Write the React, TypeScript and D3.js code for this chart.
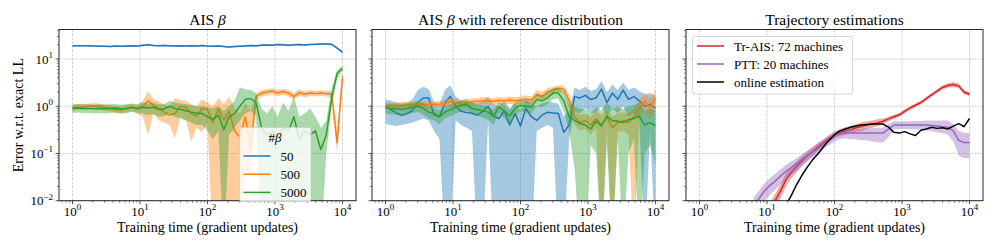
import React from 'react';
import * as d3 from 'd3';

// shared training-time grid (gradient updates)
const X = [1, 1.2, 1.45, 1.74, 2.09, 2.51, 3.02, 3.63, 4.37, 5.25, 6.31, 7.59, 9.12, 10.96, 13.2, 15.8, 19.1, 22.9, 27.5, 33.1, 39.8, 47.9, 57.5, 69.2, 83.2, 100, 120, 145, 174, 209, 251, 302, 363, 437, 525, 631, 759, 912, 1096, 1318, 1585, 1905, 2291, 2754, 3311, 3981, 4786, 5754, 6918, 8318, 10000];

// panel 1: AIS beta
const P1_B50 = [19, 19, 19.2, 19, 18.8, 18.6, 18.7, 18.5, 18.8, 18.6, 18.9, 19.2, 18.8, 19.5, 20, 19.3, 19, 19.4, 19.2, 18.9, 19.1, 18.8, 19.2, 18.9, 19.3, 18.8, 18.6, 18.9, 18.4, 18, 18.3, 18.6, 18.9, 19.3, 19, 19.5, 19.9, 19.5, 20.2, 20, 19.6, 20.1, 20.2, 19.8, 20.3, 20.5, 20.9, 20.8, 20.5, 17, 14];
const P1_B50_LO = [18.3, 18.4, 18.5, 18.3, 18.1, 17.9, 18, 17.8, 18.1, 17.9, 18.2, 18.5, 18.1, 18.7, 19.2, 18.6, 18.3, 18.6, 18.5, 18.2, 18.4, 18.1, 18.4, 18.2, 18.5, 18.1, 17.9, 18.1, 17.7, 17.3, 17.5, 17.9, 18.1, 18.5, 18.2, 18.7, 19.1, 18.8, 19.3, 19.2, 18.8, 19.3, 19.4, 19, 19.5, 19.6, 20, 19.9, 19.6, 16.2, 13.3];
const P1_B50_HI = [19.7, 19.6, 19.9, 19.7, 19.5, 19.3, 19.4, 19.2, 19.5, 19.3, 19.6, 19.9, 19.5, 20.3, 20.8, 20, 19.7, 20.2, 19.9, 19.6, 19.8, 19.5, 19.9, 19.6, 20.1, 19.5, 19.3, 19.7, 19.1, 18.7, 19.1, 19.3, 19.7, 20.1, 19.8, 20.3, 20.7, 20.2, 21.1, 20.8, 20.4, 20.9, 21, 20.6, 21.1, 21.4, 21.8, 21.7, 21.4, 17.8, 14.7];

const P1_B500 = [0.93, 0.95, 0.97, 1.0, 1.02, 1.0, 0.95, 0.9, 0.85, 0.82, 0.9, 0.95, 0.88, 1.0, 1.3, 1.05, 0.9, 0.75, 0.65, 0.7, 1.0, 0.95, 0.7, 0.62, 0.9, 0.85, 0.45, 0.9, 0.5, 0.8, 0.3, 0.22, 0.6, 0.14, 1.6, 1.9, 2.0, 2.1, 1.9, 2.05, 1.9, 1.6, 1.95, 1.8, 1.9, 1.85, 1.9, 1.85, 1.8, 0.17, 4.3];
const P1_B500_LO = [0.8, 0.82, 0.84, 0.86, 0.88, 0.86, 0.8, 0.76, 0.72, 0.7, 0.74, 0.78, 0.7, 0.6, 0.25, 0.7, 0.5, 0.45, 0.4, 0.21, 0.6, 0.5, 0.18, 0.35, 0.28, 0.45, 0.001, 0.001, 0.001, 0.001, 0.001, 0.001, 0.05, 0.03, 1.3, 1.6, 1.7, 1.8, 1.6, 1.75, 1.6, 1.35, 1.65, 1.55, 1.65, 1.6, 1.65, 1.6, 1.5, 0.1, 3.6];
const P1_B500_HI = [1.08, 1.1, 1.12, 1.15, 1.17, 1.15, 1.1, 1.05, 1.0, 1.0, 1.08, 1.12, 1.05, 1.3, 2.1, 1.4, 1.25, 1.1, 1.0, 1.5, 1.35, 1.3, 1.1, 1.0, 1.4, 1.2, 1.0, 1.5, 1.1, 1.6, 0.9, 0.7, 1.2, 0.8, 1.9, 2.2, 2.3, 2.4, 2.2, 2.35, 2.2, 1.9, 2.25, 2.1, 2.2, 2.1, 2.2, 2.1, 2.1, 0.3, 5.0];

const P1_B5000 = [0.9, 0.92, 0.9, 0.9, 0.88, 0.9, 0.88, 0.9, 0.92, 0.88, 0.9, 0.95, 0.9, 0.95, 0.92, 0.95, 0.85, 0.88, 1.0, 0.9, 0.85, 0.8, 0.75, 0.72, 0.7, 0.6, 0.52, 0.65, 0.32, 0.6, 0.7, 1.0, 1.4, 1.45, 1.2, 0.35, 0.25, 0.3, 0.22, 0.35, 0.3, 0.6, 0.2, 0.3, 0.25, 0.3, 0.12, 0.25, 1.5, 5.0, 6.3];
const P1_B5000_LO = [0.72, 0.74, 0.72, 0.72, 0.7, 0.72, 0.7, 0.72, 0.74, 0.7, 0.72, 0.76, 0.72, 0.7, 0.65, 0.68, 0.6, 0.62, 0.7, 0.6, 0.55, 0.5, 0.45, 0.4, 0.4, 0.3, 0.2, 0.3, 0.001, 0.25, 0.35, 0.5, 0.7, 0.8, 0.6, 0.001, 0.001, 0.001, 0.001, 0.001, 0.001, 0.001, 0.001, 0.001, 0.001, 0.001, 0.001, 0.1, 1.0, 3.8, 5.5];
const P1_B5000_HI = [1.1, 1.12, 1.1, 1.1, 1.08, 1.1, 1.08, 1.1, 1.12, 1.08, 1.1, 1.15, 1.1, 1.2, 1.15, 1.2, 1.1, 1.12, 1.3, 1.2, 1.15, 1.1, 1.05, 1.0, 1.0, 0.95, 0.9, 1.0, 0.8, 1.0, 1.3, 2.5, 2.3, 2.2, 1.9, 0.9, 0.7, 1.0, 0.6, 1.2, 0.8, 1.6, 0.6, 0.7, 0.9, 0.6, 0.35, 0.5, 2.5, 5.8, 7.2];

// panel 2: AIS beta with reference distribution
const P2_B50 = [1.0, 0.85, 0.72, 0.64, 0.7, 0.82, 1.2, 1.5, 1.5, 0.66, 0.6, 1.2, 1.6, 1.0, 0.78, 0.74, 0.72, 0.65, 0.78, 1.0, 0.62, 0.55, 0.8, 0.4, 0.7, 0.38, 0.9, 0.6, 0.5, 0.65, 0.75, 0.72, 0.7, 0.28, 0.4, 1.6, 1.5, 1.7, 1.4, 1.5, 2.3, 1.2, 1.9, 1.4, 2.2, 1.4, 1.6, 1.3, 1.0, 1.1, 0.9];
const P2_B50_LO = [0.42, 0.4, 0.38, 0.4, 0.42, 0.45, 0.5, 0.55, 0.5, 0.3, 0.2, 0.001, 0.001, 0.5, 0.4, 0.35, 0.3, 0.001, 0.001, 0.5, 0.001, 0.001, 0.001, 0.001, 0.001, 0.001, 0.001, 0.001, 0.3, 0.35, 0.4, 0.35, 0.001, 0.001, 0.2, 0.8, 0.7, 0.9, 0.7, 0.75, 1.0, 0.6, 0.9, 0.7, 1.0, 0.6, 0.7, 0.5, 0.001, 0.3, 0.001];
const P2_B50_HI = [1.4, 1.3, 1.2, 1.15, 1.2, 1.4, 2.2, 2.6, 2.3, 1.2, 1.1, 2.2, 2.8, 1.6, 1.3, 1.25, 1.2, 1.15, 1.3, 1.6, 1.1, 1.0, 1.3, 0.9, 1.2, 0.8, 1.4, 1.1, 1.0, 1.15, 1.25, 1.2, 1.15, 0.6, 0.8, 2.5, 2.2, 2.6, 2.1, 2.3, 3.4, 2.0, 2.9, 2.2, 3.2, 2.2, 2.5, 2.1, 1.8, 1.9, 1.6];

const P2_B500 = [1.0, 1.02, 1.03, 1.05, 1.07, 1.05, 1.1, 1.12, 1.08, 1.1, 1.12, 1.15, 1.25, 1.2, 1.15, 1.2, 1.25, 1.28, 1.3, 1.3, 1.28, 1.32, 1.3, 1.35, 1.3, 1.35, 1.4, 1.35, 1.8, 1.6, 2.0, 2.2, 2.4, 2.3, 1.3, 0.6, 0.45, 0.5, 0.4, 0.55, 0.4, 0.6, 0.35, 0.45, 0.5, 0.45, 0.6, 0.9, 1.3, 0.9, 1.5];
const P2_B500_LO = [0.88, 0.9, 0.9, 0.92, 0.93, 0.9, 0.95, 0.96, 0.92, 0.94, 0.95, 0.97, 1.05, 1.0, 0.95, 1.0, 1.05, 1.08, 1.1, 1.08, 1.05, 1.1, 1.08, 1.12, 1.05, 1.1, 1.15, 1.1, 1.45, 1.3, 1.6, 1.8, 2.0, 1.9, 0.9, 0.4, 0.3, 0.33, 0.25, 0.35, 0.001, 0.35, 0.001, 0.28, 0.3, 0.25, 0.001, 0.55, 0.8, 0.5, 0.9];
const P2_B500_HI = [1.15, 1.18, 1.2, 1.22, 1.24, 1.22, 1.28, 1.3, 1.26, 1.28, 1.3, 1.35, 1.5, 1.42, 1.35, 1.4, 1.48, 1.5, 1.55, 1.52, 1.5, 1.55, 1.52, 1.6, 1.55, 1.6, 1.7, 1.6, 2.2, 2.0, 2.4, 2.6, 2.8, 2.7, 1.8, 0.85, 0.65, 0.7, 0.6, 0.8, 0.65, 0.85, 0.6, 0.7, 0.75, 0.7, 0.9, 1.4, 1.9, 1.5, 2.2];

const P2_B5000 = [0.92, 0.9, 0.88, 0.85, 0.9, 0.95, 1.0, 0.9, 0.75, 0.7, 0.6, 0.75, 0.85, 0.95, 1.05, 1.1, 0.9, 0.85, 0.8, 0.75, 0.62, 0.97, 0.8, 0.62, 0.9, 1.05, 1.0, 0.97, 1.38, 1.3, 1.5, 1.9, 1.9, 1.3, 0.6, 0.5, 0.43, 0.4, 0.33, 0.48, 0.38, 0.62, 0.5, 0.48, 0.45, 0.52, 0.55, 0.62, 0.4, 0.45, 0.39];
const P2_B5000_LO = [0.7, 0.68, 0.66, 0.64, 0.68, 0.72, 0.76, 0.66, 0.55, 0.5, 0.42, 0.55, 0.62, 0.7, 0.78, 0.82, 0.65, 0.62, 0.58, 0.52, 0.4, 0.7, 0.55, 0.4, 0.65, 0.78, 0.72, 0.7, 1.0, 0.95, 1.1, 1.4, 1.45, 0.8, 0.3, 0.05, 0.001, 0.001, 0.15, 0.1, 0.001, 0.15, 0.001, 0.2, 0.001, 0.1, 0.2, 0.001, 0.1, 0.15, 0.06];
const P2_B5000_HI = [1.15, 1.12, 1.1, 1.08, 1.12, 1.2, 1.28, 1.15, 0.98, 0.92, 0.82, 0.98, 1.1, 1.22, 1.35, 1.4, 1.18, 1.1, 1.05, 1.0, 0.85, 1.25, 1.05, 0.85, 1.2, 1.35, 1.3, 1.28, 1.75, 1.7, 2.0, 2.4, 2.5, 2.0, 1.1, 1.0, 0.9, 0.85, 0.7, 0.95, 0.8, 1.2, 0.9, 0.95, 0.85, 1.0, 1.05, 1.2, 0.8, 0.9, 0.8];

// panel 3: trajectory estimations (series start later on the grid)
const TRAIS_X = X.slice(13);
const TRAIS = [0.006, 0.01, 0.016, 0.028, 0.04, 0.053, 0.07, 0.09, 0.11, 0.14, 0.17, 0.21, 0.25, 0.28, 0.3, 0.32, 0.35, 0.37, 0.4, 0.42, 0.45, 0.48, 0.54, 0.6, 0.66, 0.78, 0.92, 1.05, 1.2, 1.45, 1.75, 2.1, 2.5, 2.75, 2.9, 2.7, 2.0, 1.8];
const TRAIS_LO = [0.004, 0.007, 0.011, 0.02, 0.03, 0.04, 0.055, 0.072, 0.09, 0.115, 0.14, 0.18, 0.21, 0.235, 0.25, 0.27, 0.29, 0.3, 0.33, 0.35, 0.38, 0.42, 0.48, 0.54, 0.6, 0.71, 0.84, 0.96, 1.1, 1.32, 1.6, 1.9, 2.25, 2.45, 2.55, 2.4, 1.8, 1.62];
const TRAIS_HI = [0.009, 0.014, 0.022, 0.038, 0.053, 0.068, 0.088, 0.11, 0.135, 0.17, 0.2, 0.245, 0.29, 0.33, 0.36, 0.39, 0.42, 0.45, 0.48, 0.5, 0.53, 0.55, 0.6, 0.66, 0.72, 0.85, 1.0, 1.14, 1.31, 1.58, 1.9, 2.3, 2.75, 3.05, 3.25, 3.0, 2.2, 1.98];

const PTT_X = X.slice(10);
const PTT = [0.008, 0.011, 0.016, 0.021, 0.026, 0.033, 0.042, 0.05, 0.06, 0.075, 0.09, 0.11, 0.13, 0.16, 0.19, 0.23, 0.26, 0.27, 0.27, 0.27, 0.27, 0.27, 0.27, 0.27, 0.27, 0.33, 0.4, 0.4, 0.4, 0.4, 0.4, 0.4, 0.4, 0.39, 0.38, 0.37, 0.36, 0.3, 0.19, 0.17, 0.17];
const PTT_LO = [0.005, 0.007, 0.01, 0.013, 0.017, 0.022, 0.028, 0.035, 0.043, 0.055, 0.068, 0.085, 0.1, 0.125, 0.15, 0.18, 0.2, 0.21, 0.2, 0.2, 0.19, 0.19, 0.18, 0.17, 0.17, 0.22, 0.32, 0.33, 0.33, 0.33, 0.32, 0.32, 0.31, 0.3, 0.28, 0.27, 0.25, 0.18, 0.09, 0.08, 0.08];
const PTT_HI = [0.012, 0.016, 0.023, 0.03, 0.037, 0.046, 0.058, 0.068, 0.08, 0.097, 0.115, 0.14, 0.165, 0.2, 0.235, 0.28, 0.31, 0.32, 0.33, 0.33, 0.33, 0.34, 0.34, 0.35, 0.35, 0.42, 0.48, 0.48, 0.48, 0.48, 0.49, 0.49, 0.5, 0.5, 0.5, 0.5, 0.5, 0.42, 0.3, 0.27, 0.27];

const ONLINE_X = X.slice(16);
const ONLINE = [0.008, 0.013, 0.022, 0.035, 0.052, 0.075, 0.1, 0.14, 0.19, 0.25, 0.3, 0.33, 0.36, 0.38, 0.4, 0.41, 0.42, 0.42, 0.42, 0.36, 0.28, 0.27, 0.29, 0.26, 0.24, 0.31, 0.33, 0.36, 0.34, 0.35, 0.33, 0.38, 0.43, 0.37, 0.55];

const TITLES = ['AIS', 'AIS', 'Trajectory estimations'];
const BETA_LABELS = ['50', '500', '5000'];
const TRAJ_LABELS = ['Tr-AIS: 72 machines', 'PTT: 20 machines', 'online estimation'];

const C_BLUE = '#1f77b4', C_ORANGE = '#ff7f0e', C_GREEN = '#2ca02c', C_RED = '#d62728', C_PURPLE = '#9467bd';
const FONT = '"Liberation Serif", "DejaVu Serif", serif';

interface Series { x: number[]; y: number[]; lo?: number[]; hi?: number[]; color: string }

const LEFTS = [59, 372, 686];
const PW = 297;
const TOP = 29.5;
const BOTTOM = 200.7;

const yScale = d3.scaleLog().domain([1e-2, Math.pow(10, 1.625)]).range([BOTTOM, TOP]);
const MAJOR_X = [1, 10, 100, 1000, 10000];
const MAJOR_Y = [0.01, 0.1, 1, 10];
const minorOf = (lo: number, hi: number) => {
  const out: number[] = [];
  for (let e = -3; e <= 5; e++) for (let m = 2; m <= 9; m++) {
    const v = m * Math.pow(10, e);
    if (v >= lo && v <= hi) out.push(v);
  }
  return out;
};
const sup = (v: number) => String(Math.round(Math.log10(v))).replace('-', '\u2212');

const Pow: React.FC<{ x: number; y: number; v: number; anchor: string }> = ({ x, y, v, anchor }) => (
  <text x={x} y={y} textAnchor={anchor} fontSize={13}>
    10<tspan dy={-5.5} fontSize={9}>{sup(v)}</tspan>
  </text>
);

const Panel: React.FC<{ idx: number; series: Series[]; title: React.ReactNode; yLabels: boolean; children?: React.ReactNode }> = ({ idx, series, title, yLabels, children }) => {
  const left = LEFTS[idx];
  const x = d3.scaleLog().domain([Math.pow(10, -0.2), Math.pow(10, 4.2)]).range([left, left + PW]);
  const [xlo, xhi] = x.domain();
  const [ylo, yhi] = yScale.domain();
  const clipId = `clip${idx}`;
  const area = d3.area<number>();
  const line = d3.line<number>();
  return (
    <g>
      <defs>
        <clipPath id={clipId}><rect x={left} y={TOP} width={PW} height={BOTTOM - TOP} /></clipPath>
      </defs>
      {MAJOR_X.map(v => (
        <line key={'gx' + v} x1={x(v)} x2={x(v)} y1={TOP} y2={BOTTOM} stroke="#b0b0b0" strokeOpacity={0.7} strokeWidth={0.8} strokeDasharray="2.8,1.2" />
      ))}
      {MAJOR_Y.map(v => (
        <line key={'gy' + v} x1={left} x2={left + PW} y1={yScale(v)} y2={yScale(v)} stroke="#b0b0b0" strokeOpacity={0.7} strokeWidth={0.8} strokeDasharray="2.8,1.2" />
      ))}
      <g clipPath={`url(#${clipId})`}>
        {series.map((s, k) => {
          const idxs = s.x.map((_, i) => i);
          const a = s.lo && s.hi ? area.x(i => x(s.x[i])).y0(i => yScale(s.lo![i])).y1(i => yScale(s.hi![i]))(idxs) : null;
          const l = line.x(i => x(s.x[i])).y(i => yScale(s.y[i]))(idxs);
          return (
            <g key={k}>
              {a && <path d={a} fill={s.color} fillOpacity={0.4} stroke="none" />}
              <path d={l!} fill="none" stroke={s.color} strokeWidth={1.5} strokeLinejoin="round" />
            </g>
          );
        })}
      </g>
      <rect x={left} y={TOP} width={PW} height={BOTTOM - TOP} fill="none" stroke="#262626" strokeWidth={1} />
      {MAJOR_X.map(v => (
        <g key={'tx' + v}>
          <line x1={x(v)} x2={x(v)} y1={BOTTOM} y2={BOTTOM + 3.5} stroke="#262626" strokeWidth={0.8} />
          <Pow x={x(v)} y={215.5} v={v} anchor="middle" />
        </g>
      ))}
      {minorOf(xlo, xhi).map(v => (
        <line key={'mx' + v} x1={x(v)} x2={x(v)} y1={BOTTOM} y2={BOTTOM + 2} stroke="#262626" strokeWidth={0.6} />
      ))}
      {MAJOR_Y.map(v => (
        <g key={'ty' + v}>
          <line x1={left - 3.5} x2={left} y1={yScale(v)} y2={yScale(v)} stroke="#262626" strokeWidth={0.8} />
          {yLabels && <Pow x={left - 6} y={yScale(v) + 4.5} v={v} anchor="end" />}
        </g>
      ))}
      {minorOf(ylo, yhi).map(v => (
        <line key={'my' + v} x1={left - 2} x2={left} y1={yScale(v)} y2={yScale(v)} stroke="#262626" strokeWidth={0.6} />
      ))}
      <text x={left + PW / 2} y={24.5} textAnchor="middle" fontSize={15.5}>{title}</text>
      <text x={left + PW / 2} y={232} textAnchor="middle" fontSize={14}>Training time (gradient updates)</text>
      {children}
    </g>
  );
};

const LegendRow: React.FC<{ x: number; y: number; color: string; label: string }> = ({ x, y, color, label }) => (
  <g>
    <line x1={x} x2={x + 27} y1={y} y2={y} stroke={color} strokeWidth={1.5} />
    <text x={x + 37} y={y + 4.5} fontSize={13}>{label}</text>
  </g>
);

const App: React.FC = () => {
  const p1: Series[] = [
    { x: X, y: P1_B50, lo: P1_B50_LO, hi: P1_B50_HI, color: C_BLUE },
    { x: X, y: P1_B500, lo: P1_B500_LO, hi: P1_B500_HI, color: C_ORANGE },
    { x: X, y: P1_B5000, lo: P1_B5000_LO, hi: P1_B5000_HI, color: C_GREEN },
  ];
  const p2: Series[] = [
    { x: X, y: P2_B50, lo: P2_B50_LO, hi: P2_B50_HI, color: C_BLUE },
    { x: X, y: P2_B500, lo: P2_B500_LO, hi: P2_B500_HI, color: C_ORANGE },
    { x: X, y: P2_B5000, lo: P2_B5000_LO, hi: P2_B5000_HI, color: C_GREEN },
  ];
  const p3: Series[] = [
    { x: TRAIS_X, y: TRAIS, lo: TRAIS_LO, hi: TRAIS_HI, color: C_RED },
    { x: PTT_X, y: PTT, lo: PTT_LO, hi: PTT_HI, color: C_PURPLE },
    { x: ONLINE_X, y: ONLINE, color: '#000000' },
  ];
  const betaColors = [C_BLUE, C_ORANGE, C_GREEN];
  const trajColors = [C_RED, C_PURPLE, '#000000'];
  return (
    <svg width={997} height={249} style={{ position: 'absolute', left: 0, top: 0, fontFamily: FONT, background: '#fff' }}>
      <rect x={0} y={0} width={997} height={249} fill="#fff" />
      <text transform={`translate(22.5,${(TOP + BOTTOM) / 2}) rotate(-90)`} textAnchor="middle" fontSize={14}>Error w.r.t. exact LL</text>
      <Panel idx={0} series={p1} yLabels title={<>{TITLES[0]} <tspan fontStyle="italic">β</tspan></>}>
        <rect x={239.5} y={127.5} width={71.5} height={74} rx={2.5} fill="#fff" fillOpacity={0.8} stroke="#cccccc" strokeWidth={0.8} />
        <text x={275} y={142} textAnchor="middle" fontSize={13}>#<tspan fontStyle="italic">β</tspan></text>
        {BETA_LABELS.map((lab, i) => (
          <LegendRow key={lab} x={243.5} y={156 + i * 18.2} color={betaColors[i]} label={lab} />
        ))}
      </Panel>
      <Panel idx={1} series={p2} yLabels={false} title={<>{TITLES[1]} <tspan fontStyle="italic">β</tspan> with reference distribution</>} />
      <Panel idx={2} series={p3} yLabels={false} title={TITLES[2]}>
        <rect x={692.5} y={36.5} width={160} height={57.5} rx={2.5} fill="#fff" fillOpacity={0.8} stroke="#cccccc" strokeWidth={0.8} />
        {TRAJ_LABELS.map((lab, i) => (
          <LegendRow key={lab} x={697} y={46 + i * 18} color={trajColors[i]} label={lab} />
        ))}
      </Panel>
    </svg>
  );
};

export default App;
